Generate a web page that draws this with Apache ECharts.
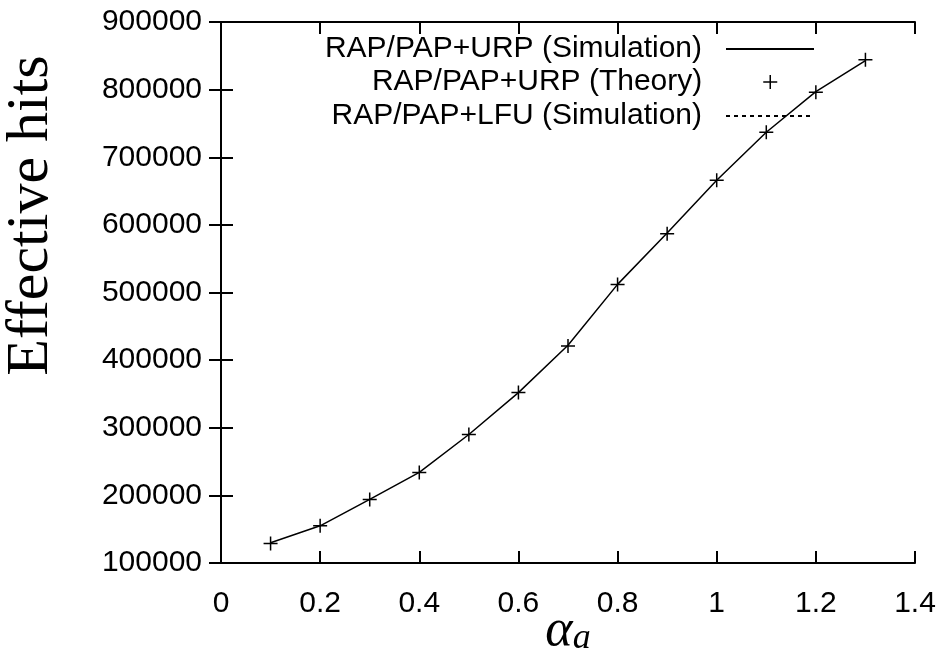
<!DOCTYPE html>
<html>
<head>
<meta charset="utf-8">
<script src="https://cdn.jsdelivr.net/npm/echarts@6/dist/echarts.min.js"></script>
<style>
html,body{margin:0;padding:0;background:#fff;}
#chart{width:945px;height:662px;}
</style>
</head>
<body>
<div id="chart"></div>
<script>
// ---- data ----
const alphaValues = [0.1, 0.2, 0.3, 0.4, 0.5, 0.6, 0.7, 0.8, 0.9, 1.0, 1.1, 1.2, 1.3];
const urpSimulation = [130000, 155000, 194000, 234000, 290000, 352000, 422000, 512000, 588000, 666000, 737000, 797000, 843000];
const urpTheory = [129000, 155000, 194000, 234000, 290000, 352000, 421000, 512000, 587000, 666000, 737000, 796000, 844000];
const lfuSimulation = []; // not visibly distinguishable in the reference
const seriesNames = ['RAP/PAP+URP (Simulation)', 'RAP/PAP+URP (Theory)', 'RAP/PAP+LFU (Simulation)'];
const xRange = [0, 1.4, 0.2];
const yRange = [100000, 900000, 100000];

const pair = (xs, ys) => xs.slice(0, ys.length).map((x, i) => [x, ys[i]]);

const chart = echarts.init(document.getElementById('chart'), null, {renderer: 'canvas'});
const axisLine = {show: true, lineStyle: {color: '#000', width: 2}};
const tickInside = {show: true, inside: true, length: 12, lineStyle: {color: '#000', width: 2}};
const labelFont = {fontFamily: '"Liberation Sans", Arial, sans-serif', fontSize: 30, color: '#000'};
const plusPath = 'path://M0,5L10,5M5,0L5,10';
const hiddenSymbol = {color: 'transparent', borderWidth: 0, opacity: 0};

function legendAt(name, top, extra) {
  return Object.assign({
    data: [name],
    right: 130,
    top: top,
    orient: 'vertical',
    align: 'right',
    itemWidth: 88,
    itemHeight: 14,
    padding: 0,
    selectedMode: false,
    textStyle: Object.assign({}, labelFont, {padding: [0, 19, 0, 0], lineHeight: 30})
  }, extra || {});
}

chart.setOption({
  animation: false,
  backgroundColor: '#fff',
  grid: {left: 221, right: 30, top: 22, bottom: 99, containLabel: false, outerBoundsMode: 'none'},
  legend: [
    legendAt(seriesNames[0], 34, {itemStyle: hiddenSymbol}),
    legendAt(seriesNames[1], 67, {
      right: 167, itemWidth: 14,
      itemStyle: {borderColor: '#000', borderWidth: 1.5, color: 'transparent'},
      textStyle: Object.assign({}, labelFont, {padding: [0, 56, 0, 0], lineHeight: 30})
    }),
    legendAt(seriesNames[2], 101, {itemStyle: hiddenSymbol})
  ],
  xAxis: [{
    type: 'value', min: xRange[0], max: xRange[1], interval: xRange[2], position: 'bottom',
    axisLine: axisLine, axisTick: tickInside, splitLine: {show: false},
    axisLabel: Object.assign({margin: 26}, labelFont),
    name: '{al|α}{sub|a}', nameLocation: 'middle', nameGap: 42, nameMoveOverlap: false,
    nameTextStyle: {
      rich: {
        al: {fontFamily: '"Liberation Serif", "DejaVu Serif", serif', fontStyle: 'italic', fontSize: 52, color: '#000', verticalAlign: 'bottom'},
        sub: {fontFamily: '"Liberation Serif", "DejaVu Serif", serif', fontStyle: 'italic', fontSize: 36, color: '#000', padding: [16, 0, 0, 0], verticalAlign: 'bottom'}
      }
    }
  }, {
    type: 'value', min: xRange[0], max: xRange[1], interval: xRange[2], position: 'top',
    axisLine: axisLine, axisTick: tickInside, splitLine: {show: false}, axisLabel: {show: false}
  }],
  yAxis: [{
    type: 'value', min: yRange[0], max: yRange[1], interval: yRange[2], position: 'left',
    axisLine: axisLine, axisTick: tickInside, splitLine: {show: false},
    axisLabel: Object.assign({margin: 19, formatter: v => String(v)}, labelFont),
    name: 'Effective hits', nameLocation: 'middle', nameGap: 160, nameRotate: 90, nameMoveOverlap: false,
    nameTextStyle: {fontFamily: '"Liberation Serif", "DejaVu Serif", serif', fontSize: 60, color: '#000', padding: [0, 0, 0, 154]}
  }, {
    type: 'value', min: yRange[0], max: yRange[1], interval: yRange[2], position: 'right',
    axisLine: axisLine, axisTick: tickInside, splitLine: {show: false}, axisLabel: {show: false}
  }],
  series: [{
    name: seriesNames[0], type: 'line', xAxisIndex: 0, yAxisIndex: 0,
    data: pair(alphaValues, urpSimulation), symbol: 'none',
    lineStyle: {color: '#000', width: 1.5}, itemStyle: {color: '#000'}
  }, {
    name: seriesNames[1], type: 'scatter', xAxisIndex: 0, yAxisIndex: 0,
    data: pair(alphaValues, urpTheory), symbol: plusPath, symbolSize: 14,
    itemStyle: {color: 'transparent', borderColor: '#000', borderWidth: 1.5, opacity: 1}
  }, {
    name: seriesNames[2], type: 'line', xAxisIndex: 0, yAxisIndex: 0,
    data: pair(alphaValues, lfuSimulation), symbol: 'none',
    lineStyle: {color: '#000', width: 1.2, type: [4, 4]}, itemStyle: {color: '#000'}
  }]
});
</script>
</body>
</html>
